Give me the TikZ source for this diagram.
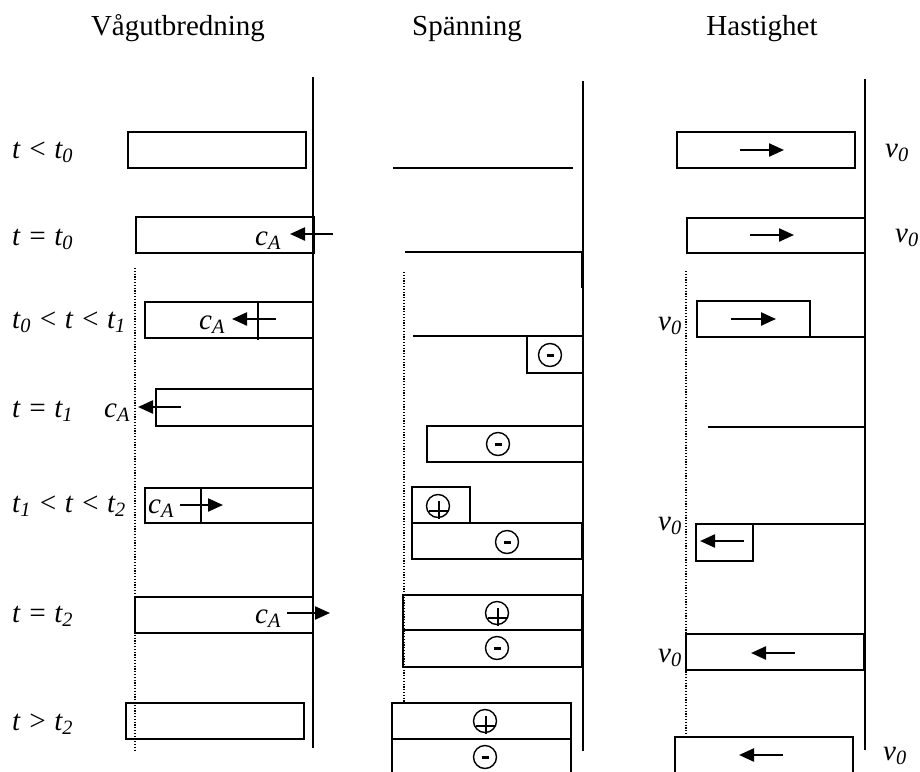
\documentclass[tikz,border=0pt]{standalone}
\usepackage{fontspec}
\setmainfont{Liberation Serif}
\usetikzlibrary{arrows.meta}
\newcommand\hdfont{\fontsize{29}{34}\selectfont}
\newcommand\lblfont{\fontsize{29}{34}\selectfont\itshape}
\newcommand\sub[1]{\textsubscript{\itshape #1}}
\tikzset{
  box/.style={draw, line width=1.7pt},
  axisline/.style={line width=1.9pt},
  lvl/.style={line width=1.7pt},
  arr/.style={line width=2.3pt, -{Triangle[length=15pt,width=13pt]}},
  guide/.style={line width=1.4pt, dash pattern=on 1.2pt off 1.6pt},
  lab/.style={anchor=base west, inner sep=0pt, font=\lblfont},
  head/.style={anchor=base, inner sep=0pt, font=\hdfont},
  neg/.pic={\draw[line width=1.4pt] (0,0) circle (11.5pt);
            \draw[line width=2.2pt] (-3.5,0.5) -- (3.5,0.5);},
  pos/.pic={\draw[line width=1.4pt] (0,0) circle (11.5pt);
            \draw[line width=1.1pt] (-9,5) -- (10,5) (1,-5) -- (1,13);}
}
\begin{document}
\begin{tikzpicture}[x=1pt,y=-1pt]
\clip (0,0) rectangle (920,771);
\fill[white] (0,0) rectangle (920,771);

% headings
\node[head] (h1) at (178,35) {Vågutbredning};
\node[head] (h2) at (467,35) {Spänning};
\node[head] (h3) at (762,35) {Hastighet};

% row labels
\node[lab] (l1) at (12,158) {t < t\sub{0}};
\node[lab] (l2) at (12,245) {t = t\sub{0}};
\node[lab] (l3) at (12,328) {t\sub{0} < t < t\sub{1}};
\node[lab] (l4) at (12,417) {t = t\sub{1}};
\node[lab] (l5) at (12,512) {t\sub{1} < t < t\sub{2}};
\node[lab] (l6) at (12,622) {t = t\sub{2}};
\node[lab] (l7) at (12,730) {t > t\sub{2}};

% ---------- column 1: wave propagation ----------
\draw[axisline] (313,77) -- (313,748);
\draw[guide] (135,268) -- (135,750);
\draw[box] (128,132) rectangle (306,168);
\draw[box] (136,217) rectangle (314,253);
\node[lab] (c2) at (255,245) {c\sub{A}};
\draw[arr] (333,234) -- (290,234);
\draw[box] (145,302) rectangle (313,338);
\draw[lvl] (258,302) -- (258,340);
\node[lab] (c3) at (199,329) {c\sub{A}};
\draw[arr] (276,319) -- (232,319);
\draw[box] (156,389) rectangle (313,426);
\node[lab] (c4) at (104,417) {c\sub{A}};
\draw[arr] (181,407) -- (138,407);
\draw[box] (145,488) rectangle (313,523);
\draw[lvl] (201,488) -- (201,523);
\node[lab] (c5) at (148,513) {c\sub{A}};
\draw[arr] (180,505) -- (223,505);
\draw[box] (135,597) rectangle (313,633);
\node[lab] (c6) at (255,623) {c\sub{A}};
\draw[arr] (287,613) -- (330,613);
\draw[box] (126,703) rectangle (304,739);

% ---------- column 2: voltage ----------
\draw[axisline] (583,81) -- (583,751);
\draw[line width=1.2pt] (581.5,252) -- (581.5,288);
\draw[guide] (404,272) -- (404,703);
\draw[lvl] (393,168) -- (573,168);
\draw[lvl] (405,252) -- (583,252);
\draw[lvl] (413,336) -- (583,336);
\draw[box] (527,336) rectangle (583,373);
\pic at (550,355) {neg};
\draw[box] (427,426) rectangle (583,462);
\pic at (498,444) {neg};
\draw[box] (412,487) rectangle (470,523);
\pic at (438,506) {pos};
\draw[box] (412,523) rectangle (582,559);
\pic at (507,542) {neg};
\draw[box] (403,595) rectangle (582,630);
\pic at (497,613) {pos};
\draw[box] (403,630) rectangle (582,667);
\pic at (497,648) {neg};
\draw[box] (392,703) rectangle (571,739);
\pic at (485,721) {pos};
\draw[box] (392,739) rectangle (571,790);
\pic at (485,757) {neg};

% ---------- column 3: velocity ----------
\draw[axisline] (865,79) -- (865,750);
\draw[guide] (686,271) -- (686,735);
\draw[box] (677,132) rectangle (855,168);
\draw[arr] (740,150) -- (784,150);
\node[lab] (v1) at (885,157) {v\sub{0}};
\draw[box] (687,218) rectangle (865,253);
\draw[arr] (750,235) -- (794,235);
\node[lab] (v2) at (895,242) {v\sub{0}};
\draw[box] (697,301) rectangle (810,337);
\draw[lvl] (810,337) -- (865,337);
\draw[arr] (731,319) -- (776,319);
\node[lab] (v3) at (658,330) {v\sub{0}};
\draw[lvl] (708,427) -- (865,427);
\draw[lvl] (753,524) -- (865,524);
\draw[box] (696,524) rectangle (753,561);
\draw[arr] (744,541) -- (700,541);
\node[lab] (v5) at (658,530) {v\sub{0}};
\draw[box] (686,634) rectangle (864,670);
\draw[arr] (795,653) -- (751,653);
\node[lab] (v6) at (658,662) {v\sub{0}};
\draw[box] (675,737) rectangle (853,790);
\draw[arr] (783,755) -- (739,755);
\node[lab] (v7) at (883,760) {v\sub{0}};
\end{tikzpicture}
\end{document}
